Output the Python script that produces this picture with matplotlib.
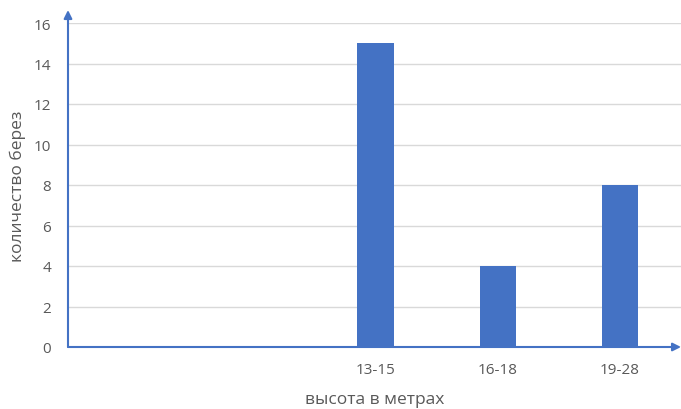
import numpy as np
import matplotlib.pyplot as plt

categories = ['', '', '13-15', '16-18', '19-28']
counts = [0, 0, 15, 4, 8]
yticks = [0, 2, 4, 6, 8, 10, 12, 14, 16]

blue = '#4472C4'
gray = '#595959'

plt.rcParams['font.family'] = ['Open Sans', 'DejaVu Sans']

fig = plt.figure(figsize=(6.81, 4.1), dpi=100)
ax = fig.add_axes([68 / 681, 62 / 410, 613 / 681, 324 / 410])

x = np.arange(len(categories))
ax.bar(x, counts, width=0.3, color=blue, zorder=3)

ax.set_xlim(-0.52, 4.5)
ax.set_ylim(0, 16)
ax.set_xticks(x)
ax.set_xticklabels(categories)
ax.set_yticks(yticks)
ax.tick_params(axis='both', length=0, labelsize=11, labelcolor=gray)
ax.tick_params(axis='y', pad=12)
ax.tick_params(axis='x', pad=11)
ax.grid(axis='y', color='#D9D9D9', lw=1, zorder=0)
for s in ax.spines.values():
    s.set_visible(False)

# axis arrows
ax.annotate('', xy=(0, 1.04), xytext=(0, 0), xycoords='axes fraction',
            arrowprops=dict(arrowstyle='-|>', color=blue, lw=1.5, mutation_scale=12,
                            shrinkA=0, shrinkB=0), annotation_clip=False)
ax.annotate('', xy=(1.0, 0), xytext=(0, 0), xycoords='axes fraction',
            arrowprops=dict(arrowstyle='-|>', color=blue, lw=1.5, mutation_scale=12,
                            shrinkA=0, shrinkB=0), annotation_clip=False)

fig.text(375 / 681, 2 / 410, 'высота в метрах', ha='center', va='bottom',
         fontsize=12.5, color=gray)
fig.text(18 / 681, 1 - 186 / 410, 'количество берез', ha='center', va='center',
         rotation=90, fontsize=12.5, color=gray)

fig.savefig('out.png', dpi=100)
